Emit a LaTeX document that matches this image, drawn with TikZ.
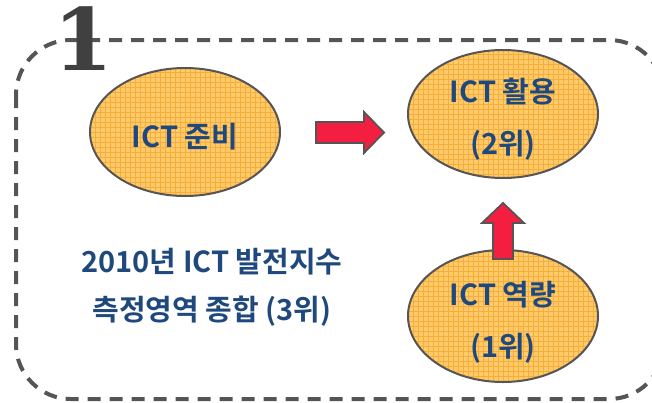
\documentclass[tikz,border=0pt]{standalone}
\usepackage{fontspec}
\setmainfont{Noto Sans CJK KR}[BoldFont={* Bold}]
\newfontfamily\numfont{DejaVu Serif}[BoldFont={* Bold}]
\usetikzlibrary{shapes.geometric}
\definecolor{framegray}{HTML}{555555}
\definecolor{numgray}{HTML}{404040}
\definecolor{txtblue}{HTML}{1F497D}
\definecolor{bubblefill}{HTML}{FFCA6A}
\definecolor{bubblegrid}{HTML}{F5A42A}
\definecolor{arrowred}{HTML}{F41E40}
\tikzset{
  frame/.style={draw=framegray, line width=4pt, dash pattern=on 13pt off 9pt, rounded corners=55pt},
  bubble/.style={ellipse, draw=framegray, line width=2pt, fill=bubblefill,
    minimum width=190pt, minimum height=128pt, inner sep=0pt,
    path picture={\draw[bubblegrid, line width=0.6pt, opacity=0.75]
      ([xshift=-5pt,yshift=-5pt]path picture bounding box.south west) grid[step=5pt]
      ([xshift=5pt,yshift=5pt]path picture bounding box.north east);}},
  bubbletext/.style={text=txtblue, font=\bfseries\fontsize{29}{52}\selectfont, align=center, yshift=-5pt},
  bigarrow/.style={draw=framegray, line width=1.8pt, fill=arrowred, line join=miter},
  plain/.style={text=txtblue, font=\bfseries\fontsize{29}{48}\selectfont, align=center}
}
\begin{document}
\begin{tikzpicture}[x=1pt,y=-1pt]
\useasboundingbox (0,0) rectangle (652,402);
\draw[frame] (16,40) rectangle (664,399);
\node[text=numgray, font=\numfont\bfseries\fontsize{86}{86}\selectfont, anchor=base, inner sep=0pt] (num) at (83,70) {1};
\node[bubble, label={[bubbletext]center:ICT 준비}] (prep) at (185,132) {};
\node[bubble, label={[bubbletext]center:{ICT 활용\\(2위)}}] (use) at (503,114) {};
\node[bubble, minimum height=132pt, label={[bubbletext, yshift=-1pt]center:{ICT 역량\\(1위)}}] (cap) at (503,316) {};
\node[plain] (total) at (212,287) {2010년 ICT 발전지수\\측정영역 종합 (3위)};
% right arrow between prep and use
\coordinate (ra) at ([xshift=35pt]prep.east);
\draw[bigarrow] (ra) ++(0,-10) -- ++(48,0) -- ++(0,-10) -- ++(20,20.5) -- ++(-20,20.5) -- ++(0,-10) -- ++(-48,0) -- cycle;
% up arrow between cap and use
\coordinate (ua) at ([yshift=-10pt]cap.north);
\draw[bigarrow] (ua) ++(-10,0) -- ++(0,-36) -- ++(-11,0) -- ++(21,-20) -- ++(21,20) -- ++(-11,0) -- ++(0,36) -- cycle;
\end{tikzpicture}
\end{document}
